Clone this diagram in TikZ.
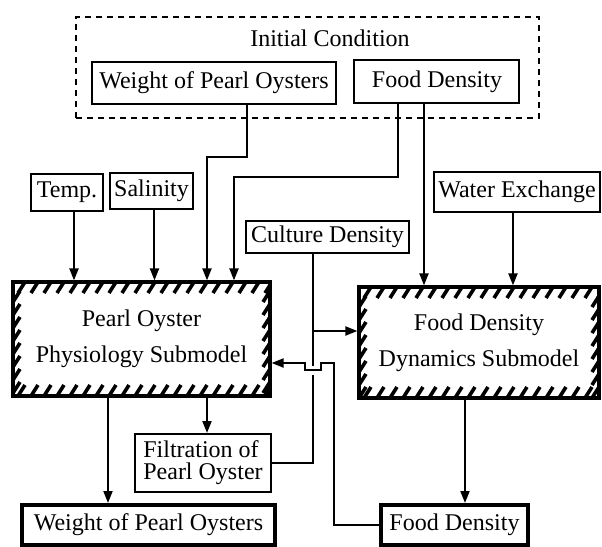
\documentclass[tikz,border=0pt]{standalone}
\usepackage{fontspec}
\setmainfont{Liberation Serif}
\usetikzlibrary{arrows.meta,calc}
\tikzset{
  box/.style={draw, line width=1pt, inner sep=0pt, font=\rmfamily\fontsize{12}{14}\selectfont},
  outbox/.style={box, line width=2pt},
  initbox/.style={draw, dash pattern=on 3pt off 2.5pt, line width=1.2pt},
  hatch/.style={line width=1.8pt},
  submodel/.style={box, line width=1.6pt, align=center, font=\rmfamily\fontsize{12}{18}\selectfont,
    path picture={
      \foreach \k in {0,...,19}{
        \draw[hatch] ($(path picture bounding box.north west)+(5+13*\k,11)$) -- ++(7,-11);
        \draw[hatch] ($(path picture bounding box.south west)+(5+13*\k,0)$) -- ++(7,-11);
      }
      \foreach \k in {0,...,8}{
        \draw[hatch] ($(path picture bounding box.north west)+(0,20+13*\k)$) -- ++(7,-11);
        \draw[hatch] ($(path picture bounding box.north east)+(-7,20+13*\k)$) -- ++(7,-11);
      }
    }},
  wire/.style={line width=1pt},
  flow/.style={wire, -{Triangle[length=6pt,width=4.5pt]}},
}

\begin{document}
\begin{tikzpicture}[x=0.5pt, y=-0.5pt]
\useasboundingbox (0,0) rectangle (602,547);

\node[initbox, minimum width=231.5pt, minimum height=50.5pt] (init) at (307.5,67.5) {};
\node[font=\rmfamily\fontsize{12}{14}\selectfont] (initlbl) at (330,38) {Initial Condition};
\node[box, minimum width=122pt, minimum height=21pt] (wpo0) at (214,83) {Weight of Pearl Oysters};
\node[box, minimum width=82.5pt, minimum height=21.5pt] (fd0) at (437,81.5) {Food Density};

\node[box, minimum width=36pt, minimum height=18.5pt] (temp) at (67,192.5) {Temp.};
\node[box, minimum width=41.5pt, minimum height=18pt] (sal) at (151.5,191) {Salinity};
\node[box, minimum width=83pt, minimum height=20pt] (water) at (517,192) {Water Exchange};
\node[box, minimum width=81.5pt, minimum height=16pt] (cult) at (327.5,237) {Culture Density};

\node[submodel, minimum width=128.5pt, minimum height=57pt] (phys) at (141.5,339) {Pearl Oyster\\Physiology Submodel};
\node[submodel, minimum width=120pt, minimum height=55.5pt] (dyn) at (479,342.5) {Food Density\\Dynamics Submodel};

\node[box, align=left, font=\rmfamily\fontsize{12}{11}\selectfont, minimum width=68pt, minimum height=29pt] (filt) at (203,463) {Filtration of\\Pearl Oyster};
\node[outbox, minimum width=126.5pt, minimum height=20pt] (wpo1) at (148.5,525) {Weight of Pearl Oysters};
\node[outbox, minimum width=73.5pt, minimum height=20pt] (fd1) at (454.5,525) {Food Density};

\coordinate (wbend) at (207,157);
\coordinate (fbend) at (234,177);
\coordinate (cj) at (313,331);
\coordinate (hopA) at (313,366);
\coordinate (hopB) at (313,375);
\coordinate (hop) at (313,363);

\draw[flow] ($(wpo0.south)+(33,0)$) |- (wbend) -- (wbend |- phys.north);
\draw[flow] ($(fd0.south)+(-39,0)$) |- (fbend) -- (fbend |- phys.north);
\draw[flow] ($(fd0.south)+(-13,0)$) coordinate (f2) -- (f2 |- dyn.north);
\draw[flow] ($(temp.south)+(7,0)$) coordinate (t1) -- (t1 |- phys.north);
\draw[flow] ($(sal.south)+(3,0)$) coordinate (s1) -- (s1 |- phys.north);
\draw[flow] ($(water.south)+(-4,0)$) coordinate (w1) -- (w1 |- dyn.north);

\draw[wire] ($(cult.south)+(-14.5,0)$) -- (hopA);
\draw[wire] (filt.east) -| (hopB);
\draw[flow] (cj) -- (cj -| dyn.west);
\draw[flow] (fd1.west) -| ($(hop)+(21,0)$) -- ++(-13,0) -- ++(0,7) -- ++(-16,0) -- ++(0,-7) -- (hop -| phys.east);

\draw[flow] ($(phys.south)+(-33.5,0)$) coordinate (p1) -- (p1 |- wpo1.north);
\draw[flow] ($(phys.south)+(65.5,0)$) coordinate (p2) -- (p2 |- filt.north);
\draw[flow] ($(dyn.south)+(-14,0)$) coordinate (d1) -- (d1 |- fd1.north);
\end{tikzpicture}
\end{document}
